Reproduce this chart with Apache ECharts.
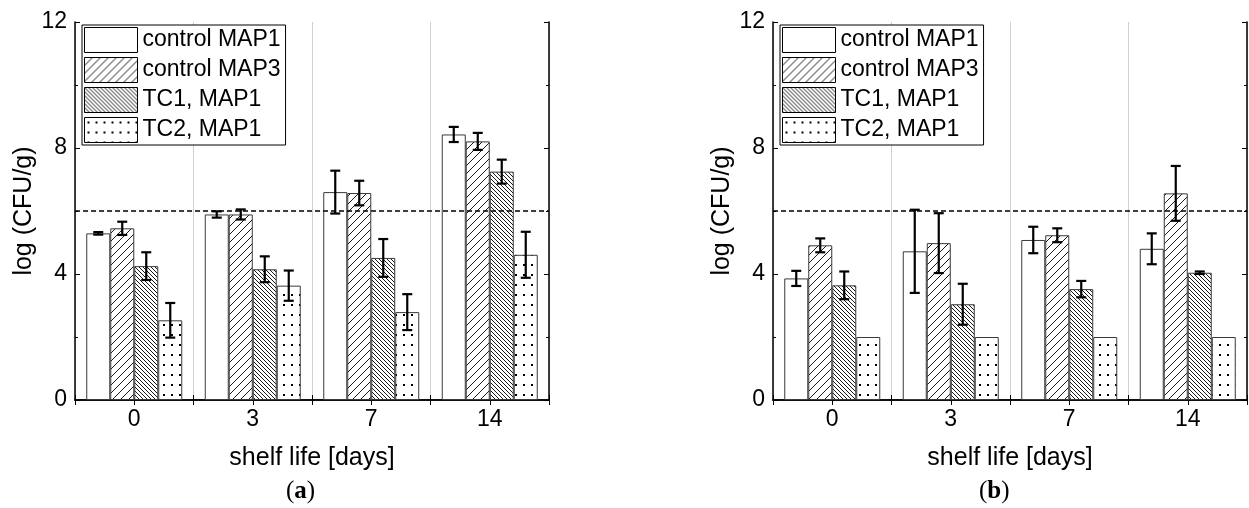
<!DOCTYPE html>
<html>
<head>
<meta charset="utf-8">
<script src="https://cdn.jsdelivr.net/npm/echarts@6/dist/echarts.min.js"></script>
<style>
  html, body { margin: 0; padding: 0; background: #fff; }
  #main { width: 1249px; height: 508px; }
</style>
</head>
<body>
<div id="main"></div>
<script>
// data
var days = ["0", "3", "7", "14"];
var names = ["control MAP1", "control MAP3", "TC1, MAP1", "TC2, MAP1"];

// (a)
var aCtrl1 = [5.29, 5.89, 6.60, 8.43];
var aCtrl1Err = [0.04, 0.10, 0.68, 0.24];
var aCtrl3 = [5.45, 5.89, 6.57, 8.21];
var aCtrl3Err = [0.21, 0.16, 0.39, 0.27];
var aTc1 = [4.25, 4.15, 4.51, 7.25];
var aTc1Err = [0.44, 0.41, 0.60, 0.38];
var aTc2 = [2.53, 3.63, 2.79, 4.61];
var aTc2Err = [0.55, 0.48, 0.57, 0.73];

// (b)
var bCtrl1 = [3.86, 4.72, 5.08, 4.80];
var bCtrl1Err = [0.24, 1.32, 0.42, 0.49];
var bCtrl3 = [4.91, 4.98, 5.23, 6.56];
var bCtrl3Err = [0.22, 0.95, 0.22, 0.87];
var bTc1 = [3.64, 3.04, 3.52, 4.04];
var bTc1Err = [0.44, 0.65, 0.26, 0.04];
var bTc2 = [2.0, 2.0, 2.0, 2.0];
var bTc2Err = [0, 0, 0, 0];

var limit = 6;
var yTicks = [0, 4, 8, 12];

var FONT = "Liberation Sans, Arial, sans-serif";
var BAR_W = 24;

// hatch fills
function makePattern(kind) {
  var c = document.createElement("canvas");
  var ctx = c.getContext("2d");
  if (kind == "plain") {
    c.width = 4; c.height = 4;
    ctx.fillStyle = "#fff"; ctx.fillRect(0, 0, 4, 4);
  } else if (kind == "fwd") {
    c.width = 8; c.height = 8;
    ctx.fillStyle = "#fff"; ctx.fillRect(0, 0, 8, 8);
    ctx.strokeStyle = "#000"; ctx.lineWidth = 0.9;
    ctx.beginPath();
    ctx.moveTo(0, 8); ctx.lineTo(8, 0);
    ctx.moveTo(-1, 1); ctx.lineTo(1, -1);
    ctx.moveTo(7, 9); ctx.lineTo(9, 7);
    ctx.stroke();
  } else if (kind == "back") {
    c.width = 4; c.height = 4;
    ctx.fillStyle = "#fff"; ctx.fillRect(0, 0, 4, 4);
    ctx.strokeStyle = "#000"; ctx.lineWidth = 0.9;
    ctx.beginPath();
    ctx.moveTo(0, 0); ctx.lineTo(4, 4);
    ctx.moveTo(-1, 3); ctx.lineTo(1, 5);
    ctx.moveTo(3, -1); ctx.lineTo(5, 1);
    ctx.stroke();
  } else {
    c.width = 8; c.height = 10;
    ctx.fillStyle = "#fff"; ctx.fillRect(0, 0, 8, 10);
    ctx.fillStyle = "#000"; ctx.fillRect(3, 4, 2, 2);
  }
  return { image: c, repeat: "repeat" };
}
var fills = [makePattern("plain"), makePattern("fwd"), makePattern("back"), makePattern("dots")];

var grids = [
  { left: 75, top: 22, width: 474, height: 378 },
  { left: 773, top: 22, width: 474, height: 378 }
];

var xAxes = [];
var yAxes = [];
[0, 1].forEach(function (g) {
  xAxes.push({
    type: "category", gridIndex: g, data: days, position: "bottom",
    axisLine: { lineStyle: { color: "#000", width: 1.5 } },
    axisTick: { show: true, inside: true, length: 5, lineStyle: { color: "#000" } },
    axisLabel: { color: "#000", fontSize: 23, fontFamily: FONT, margin: 8 },
    splitLine: { show: true, lineStyle: { color: "#cfcfcf", width: 1 } },
    name: "shelf life [days]", nameLocation: "middle", nameGap: 46,
    nameTextStyle: { color: "#000", fontSize: 25, fontFamily: FONT }
  });
  xAxes.push({
    type: "value", gridIndex: g, position: "top", min: 0, max: 4, interval: 0.5,
    axisLine: { show: true, lineStyle: { color: "#000", width: 1.5 } },
    axisTick: { show: true, inside: true, length: 5, lineStyle: { color: "#000" } },
    axisLabel: { show: false }, splitLine: { show: false }
  });
  yAxes.push({
    type: "value", gridIndex: g, position: "left", min: 0, max: 12, interval: 4,
    axisLine: { show: true, lineStyle: { color: "#000", width: 1.5 } },
    axisTick: { show: true, inside: true, length: 5, lineStyle: { color: "#000" } },
    minorTick: { show: true, splitNumber: 2, length: 3, lineStyle: { color: "#000" } },
    axisLabel: { color: "#000", fontSize: 23, fontFamily: FONT, margin: 8,
      customValues: yTicks },
    splitLine: { show: false },
    name: "log (CFU/g)", nameLocation: "middle", nameGap: 38, nameRotate: 90,
    nameTextStyle: { color: "#000", fontSize: 25, fontFamily: FONT }
  });
  yAxes.push({
    type: "value", gridIndex: g, position: "right", min: 0, max: 12, interval: 4,
    axisLine: { show: true, lineStyle: { color: "#000", width: 1.5 } },
    axisTick: { show: true, inside: true, length: 5, lineStyle: { color: "#000" } },
    minorTick: { show: true, splitNumber: 2, length: 3, lineStyle: { color: "#000" } },
    axisLabel: { show: false }, splitLine: { show: false }
  });
});

var panels = [
  { vals: [aCtrl1, aCtrl3, aTc1, aTc2], errs: [aCtrl1Err, aCtrl3Err, aTc1Err, aTc2Err] },
  { vals: [bCtrl1, bCtrl3, bTc1, bTc2], errs: [bCtrl1Err, bCtrl3Err, bTc1Err, bTc2Err] }
];

var series = [];
panels.forEach(function (p, g) {
  p.vals.forEach(function (vals, i) {
    var s = {
      name: names[i], type: "bar", xAxisIndex: g * 2, yAxisIndex: g * 2,
      data: vals, barWidth: BAR_W, barGap: "0%",
      itemStyle: { color: fills[i], borderColor: "#3a3a3a", borderWidth: 1 },
      emphasis: { disabled: true }
    };
    if (i == 0) {
      s.markLine = {
        silent: true, symbol: "none", label: { show: false },
        lineStyle: { color: "#000", type: [5, 3], width: 1.6 },
        data: [{ yAxis: limit }]
      };
    }
    series.push(s);
  });
  p.vals.forEach(function (vals, i) {
    var errs = p.errs[i];
    var offset = (i - 1.5) * BAR_W;
    var d = [];
    vals.forEach(function (v, k) {
      if (errs[k] > 0) d.push([k, v - errs[k], v + errs[k]]);
    });
    series.push({
      type: "custom", xAxisIndex: g * 2, yAxisIndex: g * 2, z: 10, silent: true,
      data: d,
      renderItem: function (params, api) {
        var lo = api.coord([api.value(0), api.value(1)]);
        var hi = api.coord([api.value(0), api.value(2)]);
        var x = lo[0] + offset;
        var cap = 5;
        var st = { stroke: "#000", lineWidth: 2.2 };
        return {
          type: "group",
          children: [
            { type: "line", shape: { x1: x, y1: lo[1], x2: x, y2: hi[1] }, style: st },
            { type: "line", shape: { x1: x - cap, y1: lo[1], x2: x + cap, y2: lo[1] }, style: st },
            { type: "line", shape: { x1: x - cap, y1: hi[1], x2: x + cap, y2: hi[1] }, style: st }
          ]
        };
      }
    });
  });
});

function legendFor(left) {
  return {
    left: left, top: 25, orient: "vertical",
    itemWidth: 53, itemHeight: 25, itemGap: 4,
    padding: [2, 5, 2, 2],
    backgroundColor: "#fff", borderColor: "#000", borderWidth: 1,
    selectedMode: false,
    textStyle: { color: "#000", fontSize: 23, fontFamily: FONT },
    data: names.map(function (n, i) {
      return { name: n, icon: "rect",
        itemStyle: { color: fills[i], borderColor: "#000", borderWidth: 1 } };
    })
  };
}

function caption(letter, left) {
  return {
    type: "text", left: left, top: 479,
    style: {
      text: "{p|(}{b|" + letter + "}{p|)}",
      rich: {
        p: { fontSize: 25, fontFamily: "Liberation Serif, serif", fill: "#000" },
        b: { fontSize: 25, fontWeight: "bold", fontFamily: "Liberation Serif, serif", fill: "#000" }
      }
    }
  };
}

var myChart = echarts.init(document.getElementById("main"), null, { renderer: "canvas" });
myChart.setOption({
  animation: false,
  backgroundColor: "#fff",
  grid: grids,
  xAxis: xAxes,
  yAxis: yAxes,
  legend: [legendFor(82), legendFor(780)],
  graphic: [caption("a", 286), caption("b", 979)],
  series: series
});
</script>
</body>
</html>
